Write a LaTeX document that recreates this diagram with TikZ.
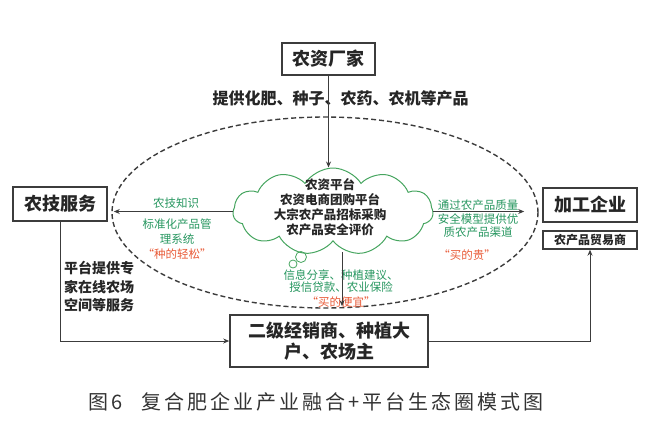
\documentclass[tikz,border=0pt]{standalone}
\usepackage{fontspec}
\setmainfont{Noto Sans CJK SC}
\newfontfamily\capfont[LetterSpace=15]{Noto Sans CJK SC}
\usetikzlibrary{arrows.meta,shapes.symbols,shapes.geometric,calc}
\definecolor{tgreen}{RGB}{38,150,95}
\definecolor{tred}{RGB}{232,90,55}
\definecolor{cgreen}{RGB}{70,165,95}
\definecolor{lgray}{RGB}{60,60,60}
\tikzset{
  mainbox/.style={draw=lgray,line width=1.6pt,fill=white,inner sep=0pt,font=\fontsize{18}{20}\selectfont\bfseries,text=black!85},
  smallbox/.style={draw=lgray,line width=1.4pt,inner sep=0pt,font=\fontsize{12}{14}\selectfont\bfseries,text=black!85},
  arr/.style={draw=lgray,line width=0.9pt,-{Stealth[length=6pt,width=5pt]}},
  gtext/.style={text=tgreen,align=center,inner sep=0pt,font=\fontsize{11.5}{13.5}\selectfont},
  rtext/.style={text=tred,inner sep=0pt,font=\fontsize{11.5}{13.5}\selectfont},
  btext/.style={text=black!85,align=center,inner sep=0pt},
}
\begin{document}
\begin{tikzpicture}[x=1pt,y=-1pt]
\useasboundingbox (0,0) rectangle (664,434);
% dashed ellipse
\node[draw=lgray,dashed,dash pattern=on 5pt off 3pt,line width=1.4pt,ellipse,minimum width=426pt,minimum height=191pt,inner sep=0pt] (eco) at (325,212.5) {};
% boxes
\node[mainbox,minimum width=93pt,minimum height=32pt] (zc) at (328.5,59) {农资厂家};
\node[mainbox,minimum width=94pt,minimum height=34pt] (nj) at (60,204) {农技服务};
\node[mainbox,minimum width=94pt,minimum height=34pt] (jg) at (590,205) {加工企业};
\node[smallbox,minimum width=94pt,minimum height=18pt] (my) at (590,240) {农产品贸易商};
\node[mainbox,minimum width=198pt,minimum height=52pt,align=center,font=\fontsize{18}{21}\selectfont\bfseries] (bot) at (329,341) {二级经销商、种植大\\户、农场主};
% cloud
\node[cloud,draw=cgreen,line width=1pt,cloud puffs=11,cloud puff arc=115,aspect=2.3,minimum width=200pt,minimum height=87pt,inner sep=0pt] (cl) at (333,211.5) {};
\node[btext,font=\fontsize{12.5}{15}\selectfont\bfseries] (clt) at (330,207.5) {农资平台\\农资电商团购平台\\大宗农产品招标采购\\农产品安全评价};
\node[draw=cgreen,line width=0.8pt,circle,minimum size=11pt,inner sep=0pt] (b1) at (301,257) {};
\node[draw=cgreen,line width=0.8pt,circle,minimum size=8pt,inner sep=0pt] (b2) at (293,264) {};
% texts
\node[btext,font=\fontsize{16}{18}\selectfont\bfseries] (tg) at (340.5,98) {提供化肥、种子、农药、农机等产品};
\node[btext,align=left,font=\fontsize{14}{18.5}\selectfont\bfseries] (pt) at (99,287) {平台提供专\\家在线农场\\空间等服务};
\node[gtext] (g1) at (176,203) {农技知识};
\node[gtext,font=\fontsize{11.5}{15}\selectfont] (g2) at (177,232) {标准化产品管\\理系统};
\node[rtext] (r1) at (177,254) {“种的轻松”};
\node[gtext,font=\fontsize{11.5}{13.5}\selectfont] (g3) at (478,219) {通过农产品质量\\安全模型提供优\\质农产品渠道};
\node[rtext] (r2) at (467,255) {“买的贵”};
\node[gtext,font=\fontsize{11.5}{12.5}\selectfont] (g4) at (341,281) {信息分享、种植建议、\\授信贷款、农业保险};
\node[rtext] (r3) at (341,302) {“买的便宜”};
% caption
\node[inner sep=0pt,anchor=west,text=black!80,font=\capfont\fontsize{20}{22}\selectfont] (cap) at (88,402) {图6\hspace{19pt}复合肥企业产业融合+平台生态圈模式图};
% connectors
\draw[arr] (zc.south) -- (zc.south |- cl.north);
\draw[arr] (cl.west) -- ($(cl.west -| nj.east)+(6,0)$);
\draw[arr] (cl.east) -- ($(cl.east -| jg.west)+(-18,0)$);
\coordinate (cb) at (342,252);
\draw[arr] (cb) -- ($(cb |- bot.north)+(0,-8)$);
\draw[arr] (nj.south) -- (nj.south |- bot.west) -- (bot.west);
\draw[arr] (bot.east) -- (bot.east -| my.south) -- (my.south);
\end{tikzpicture}
\end{document}
